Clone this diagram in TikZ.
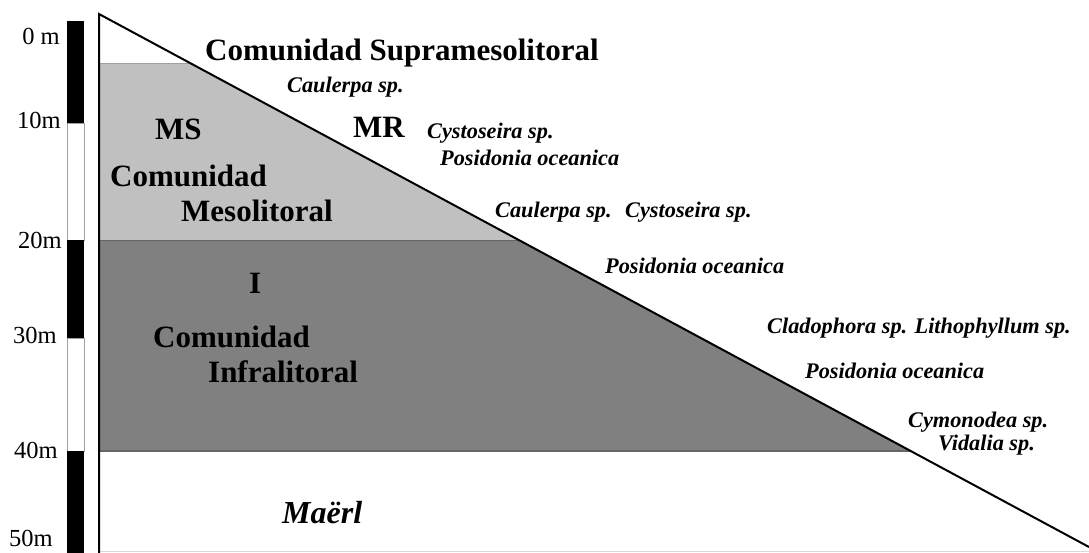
\documentclass[tikz,border=0pt]{standalone}
\usepackage{fontspec}
\setmainfont{Liberation Serif}
\definecolor{lightzone}{HTML}{C0C0C0}
\definecolor{darkzone}{HTML}{808080}
\definecolor{edgegrey}{HTML}{A0A0A0}
\begin{document}
\begin{tikzpicture}[x=1pt,y=-1pt,
  lab/.style={anchor=base west, inner sep=0pt, font=\fontsize{22.3}{26}\selectfont\bfseries\itshape},
  zonetext/.style={anchor=base west, inner sep=0pt, font=\fontsize{31}{36}\selectfont\bfseries},
  depthtext/.style={anchor=base east, inner sep=0pt, font=\fontsize{24.5}{28}\selectfont},
  blackseg/.style={fill=black},
  whiteseg/.style={fill=white, draw=edgegrey, line width=0.8pt}]
\useasboundingbox (0,0) rectangle (1089,552);
\fill[white] (0,0) rectangle (1089,552);
% zones
\fill[lightzone] (99,63) -- (190,63) -- (518.8,240) -- (99,240) -- cycle;
\fill[darkzone] (99,240) -- (518.8,240) -- (910.7,451) -- (99,451) -- cycle;
\draw[edgegrey, line width=0.8pt] (99,63) -- (190,63);
\draw[black!60, line width=1pt] (99,240) -- (518.8,240);
\draw[black!60, line width=1.2pt] (99,451) -- (910.7,451);
\draw[black!15, line width=1pt] (99,551) -- (1089,551);
% frame
\coordinate (top) at (99,14);
\coordinate (bottomleft) at (99,560);
\coordinate (end) at (1089,547);
\draw[line width=2pt] (bottomleft) -- (top) -- (end);
% depth scale
\fill[blackseg] (67,21) rectangle (84,123);
\filldraw[whiteseg] (67,123) rectangle (84,240);
\fill[blackseg] (67,240) rectangle (84,338);
\filldraw[whiteseg] (67,338) rectangle (84,451);
\fill[blackseg] (67,451) rectangle (84,560);
\node[depthtext] (d0) at (60,44) {0 m};
\node[depthtext] (d10) at (61,128) {10m};
\node[depthtext] (d20) at (62,248) {20m};
\node[depthtext] (d30) at (57,343) {30m};
\node[depthtext] (d40) at (58,458) {40m};
\node[depthtext] (d50) at (53,546) {50m};
% zone texts
\node[zonetext] (supra) at (205,60) {Comunidad Supramesolitoral};
\node[zonetext] (ms) at (155,139) {MS};
\node[zonetext] (mscom) at (110,186) {Comunidad};
\node[zonetext] (meso) at (181,221) {Mesolitoral};
\node[zonetext] (mr) at (353,137) {MR};
\node[zonetext] (izone) at (249,293) {I};
\node[zonetext] (icom) at (153,347) {Comunidad};
\node[zonetext] (infra) at (208,382) {Infralitoral};
\node[anchor=base west, inner sep=0pt, font=\fontsize{32}{38}\selectfont\bfseries\itshape] (maerl) at (282,523) {Maërl};
% species
\node[lab] (cau1) at (287,92) {Caulerpa sp.};
\node[lab] (cys1) at (427,138) {Cystoseira sp.};
\node[lab] (pos1) at (440,165) {Posidonia oceanica};
\node[lab] (cau2) at (495,217) {Caulerpa sp.};
\node[lab] (cys2) at (625,217) {Cystoseira sp.};
\node[lab] (pos2) at (605,273) {Posidonia oceanica};
\node[lab] (clad) at (767,333) {Cladophora sp. Lithophyllum sp.};
\node[lab] (pos3) at (805,378) {Posidonia oceanica};
\node[lab] (cymo) at (908,427) {Cymonodea sp.};
\node[lab] (vida) at (938,450) {Vidalia sp.};
\end{tikzpicture}
\end{document}
